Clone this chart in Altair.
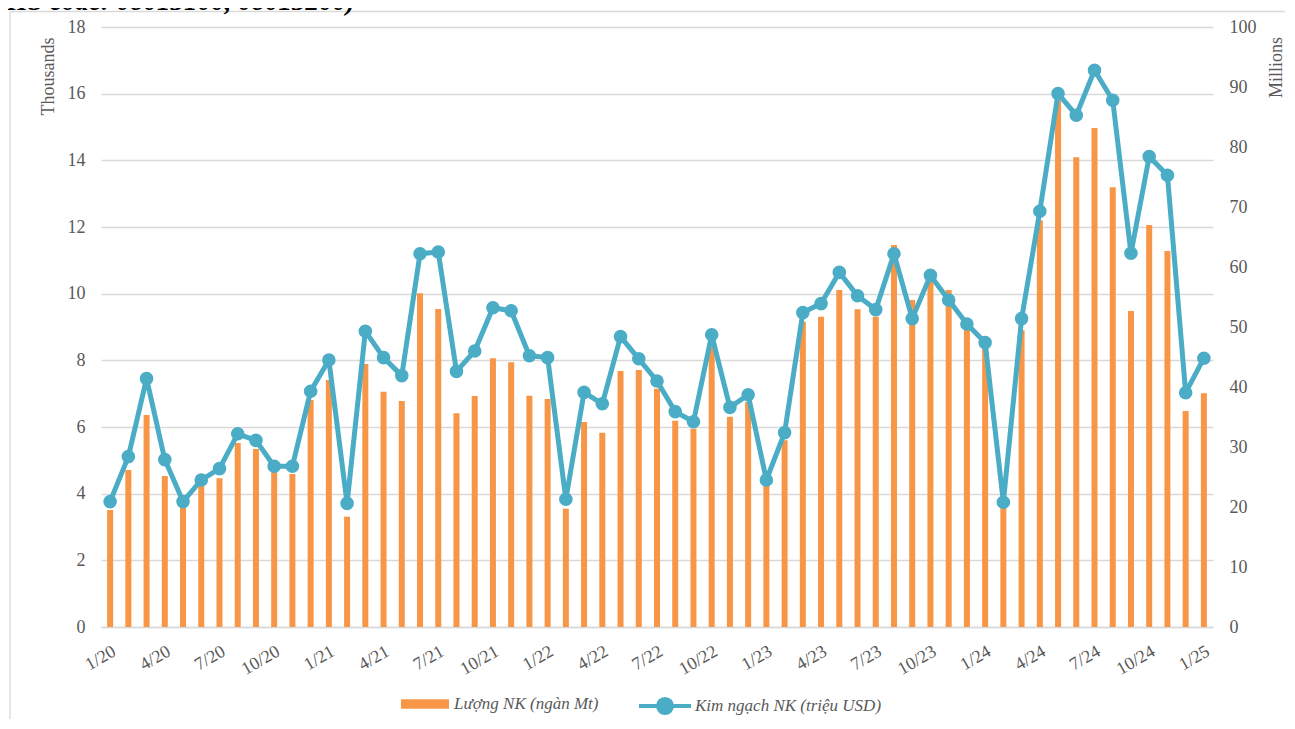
import altair as alt
import pandas as pd

ORANGE = "#F79646"
TEAL = "#4BACC6"
GRAY = "#595959"
GRID = "#D9D9D9"
FONT = "Liberation Serif"

months = [f"{m}/{y}" for y in range(20, 25) for m in range(1, 13)] + ["1/25"]
tick_labels = months[::3]

# Lượng NK (ngàn Mt) – thousands of tonnes
volume = [
    3.51, 4.71, 6.36, 4.53, 3.60, 4.25, 4.46, 5.52, 5.34, 4.68, 4.59, 6.81,
    7.41, 3.31, 7.89, 7.06, 6.78, 10.01, 9.54, 6.41, 6.93, 8.06, 7.94, 6.94,
    6.84, 3.55, 6.15, 5.83, 7.68, 7.71, 7.15, 6.19, 5.95, 8.40, 6.31, 6.75,
    4.25, 5.60, 9.16, 9.31, 10.11, 9.53, 9.31, 11.46, 9.81, 10.40, 10.11, 9.00,
    8.40, 3.70, 8.90, 12.20, 15.80, 14.09, 14.97, 13.19, 9.48, 12.06, 11.28, 6.48,
    7.01,
]

# Kim ngạch NK (triệu USD) – millions USD
value = [
    20.9, 28.4, 41.4, 27.9, 20.9, 24.5, 26.4, 32.2, 31.1, 26.8, 26.8, 39.3,
    44.5, 20.6, 49.3, 44.9, 41.9, 62.2, 62.5, 42.6, 46.0, 53.2, 52.7, 45.2,
    44.9, 21.3, 39.1, 37.2, 48.4, 44.7, 41.0, 35.9, 34.2, 48.7, 36.6, 38.7,
    24.5, 32.4, 52.4, 53.9, 59.1, 55.2, 52.9, 62.2, 51.4, 58.6, 54.5, 50.5,
    47.4, 20.8, 51.4, 69.3, 88.9, 85.3, 92.8, 87.8, 62.3, 78.4, 75.3, 39.05,
    44.8,
]

left_ticks = [0, 2, 4, 6, 8, 10, 12, 14, 16, 18]
right_ticks = [0, 10, 20, 30, 40, 50, 60, 70, 80, 90, 100]

bar_name = "Lượng NK (ngàn Mt)"
line_name = "Kim ngạch NK (triệu USD)"
title_text = "(HS code: 08013100, 08013200)"

df = pd.DataFrame({"month": months, "vol": volume, "val": value,
                   "s1": bar_name, "s2": line_name})
one = pd.DataFrame({"a": [0]})

W, H = 1112, 600

x_enc = alt.X(
    "month:N",
    sort=months,
    scale=alt.Scale(paddingInner=0, paddingOuter=0),
    axis=alt.Axis(
        values=tick_labels, labelAngle=330, labelAlign="right", labelBaseline="top",
        labelPadding=15, ticks=False, tickSize=0, domain=True, domainColor=GRID,
        domainWidth=1.3, grid=False, title=None, labelFontSize=18,
    ),
)

base = alt.Chart(df)

bars = base.mark_bar(size=6).encode(
    x=x_enc,
    y=alt.Y(
        "vol:Q",
        scale=alt.Scale(domain=[0, 18], nice=False, zero=True),
        axis=alt.Axis(
            values=left_ticks, orient="left", grid=True, gridColor=GRID, gridWidth=1.3,
            ticks=False, tickSize=0, domain=False, labelPadding=16, labelFontSize=18,
            title="Thousands", titleAngle=270, titleAlign="center", titleBaseline="middle",
            titleX=-53, titleY=49, titleFontSize=18,
        ),
    ),
    fill=alt.Fill(
        "s1:N",
        scale=alt.Scale(domain=[bar_name], range=[ORANGE]),
        legend=alt.Legend(
            orient="none", legendX=300, legendY=653, title=None, padding=0,
            symbolType="M-1,-0.2H1V0.2H-1Z", symbolSize=2304, symbolStrokeWidth=0,
            labelFont=FONT, labelFontStyle="italic", labelFontSize=17, labelColor=GRAY,
            labelOffset=5, labelLimit=400,
        ),
    ),
)

y_right = alt.Y(
    "val:Q",
    scale=alt.Scale(domain=[0, 100], nice=False, zero=True),
    axis=alt.Axis(
        values=right_ticks, orient="right", grid=False, ticks=False, tickSize=0,
        domain=False, labelPadding=16, labelFontSize=18,
        title="Millions", titleAngle=270, titleAlign="center", titleBaseline="middle",
        titleX=63, titleY=40, titleFontSize=18,
    ),
)

line = base.mark_line(strokeWidth=5, strokeJoin="round", strokeCap="round").encode(
    x=x_enc,
    y=y_right,
    stroke=alt.Stroke(
        "s2:N",
        scale=alt.Scale(domain=[line_name], range=[TEAL]),
        legend=alt.Legend(
            orient="none", legendX=536, legendY=651, title=None, padding=0,
            symbolType="M-1,0H1M-0.27,0A0.27,0.27,0,1,0,0.27,0A0.27,0.27,0,1,0,-0.27,0Z",
            symbolSize=2704, symbolStrokeWidth=4, symbolFillColor=TEAL,
            symbolStrokeColor=TEAL,
            labelFont=FONT, labelFontStyle="italic", labelFontSize=17, labelColor=GRAY,
            labelOffset=2, labelLimit=400,
        ),
    ),
)

points = base.mark_circle(size=185, color=TEAL, opacity=1).encode(
    x=x_enc,
    y=alt.Y("val:Q", scale=alt.Scale(domain=[0, 100], nice=False, zero=True), axis=None),
)

frame_top = alt.Chart(one).mark_rule(color=GRID, strokeWidth=1.3).encode(
    x=alt.value(-91), x2=alt.value(W + 110), y=alt.value(-15.5)
)
frame_left = alt.Chart(one).mark_rule(color=GRID, strokeWidth=1.3).encode(
    x=alt.value(-91), y=alt.value(-15.5), y2=alt.value(H + 110)
)
title_mark = alt.Chart(one).mark_text(
    text=title_text, align="left", baseline="alphabetic", font=FONT,
    fontSize=27, fontWeight="bold", fontStyle="italic", color="black",
).encode(x=alt.value(-103), y=alt.value(-17.5))

chart = (
    alt.layer(frame_top, frame_left, title_mark, bars, line, points)
    .resolve_scale(y="independent", fill="independent", stroke="independent")
    .properties(
        width=W, height=H,
        autosize=alt.AutoSizeParams(type="none"),
        padding={"left": 93, "top": 19, "right": 72, "bottom": 92},
        background="white",
    )
    .configure_view(stroke=None)
    .configure_axis(
        labelFont=FONT, labelColor=GRAY, titleFont=FONT, titleColor=GRAY,
        titleFontWeight="normal",
    )
)

chart.save("out.html", embed_options={"renderer": "svg", "actions": False})
